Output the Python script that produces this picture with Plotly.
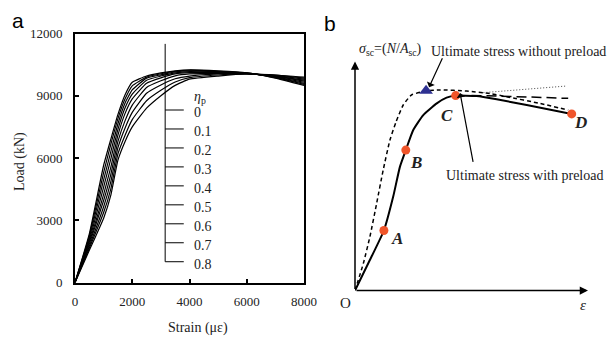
import plotly.graph_objects as go

W, H = 611, 338

# ---------------- Panel a data ----------------
strain = [0, 500, 1000, 1250, 1500, 1750, 2000, 2500, 3000, 3500, 4000, 5000, 6000, 7000, 8000]
eta_labels = ["0", "0.1", "0.2", "0.3", "0.4", "0.5", "0.6", "0.7", "0.8"]
load_eta_00 = [0, 2340, 5650, 6900, 8100, 9050, 9650, 9950, 10100, 10200, 10250, 10200, 10100, 9850, 9500]
load_eta_01 = [0, 2250, 5300, 6650, 7900, 8850, 9480, 9900, 10060, 10180, 10230, 10180, 10100, 9870, 9550]
load_eta_02 = [0, 2150, 4950, 6300, 7650, 8650, 9280, 9850, 10010, 10150, 10200, 10160, 10090, 9890, 9600]
load_eta_03 = [0, 2050, 4600, 5950, 7380, 8420, 9080, 9750, 9950, 10100, 10160, 10130, 10080, 9910, 9650]
load_eta_04 = [0, 1950, 4250, 5550, 7100, 8150, 8850, 9600, 9860, 10050, 10110, 10110, 10070, 9930, 9700]
load_eta_05 = [0, 1850, 3950, 5200, 6800, 7800, 8550, 9400, 9720, 9960, 10050, 10080, 10060, 9950, 9750]
load_eta_06 = [0, 1750, 3650, 4850, 6500, 7450, 8200, 9120, 9520, 9820, 9950, 10050, 10060, 9970, 9800]
load_eta_07 = [0, 1650, 3370, 4500, 6200, 7100, 7850, 8760, 9260, 9660, 9870, 10000, 10050, 9990, 9850]
load_eta_08 = [0, 1550, 3100, 4200, 5900, 6800, 7500, 8400, 9000, 9500, 9800, 9950, 10050, 10000, 9900]
loads = [load_eta_00, load_eta_01, load_eta_02, load_eta_03, load_eta_04,
         load_eta_05, load_eta_06, load_eta_07, load_eta_08]
x_ticks = [0, 2000, 4000, 6000, 8000]
x_tick_text = ["0", "2000", "4000", "6000", "8000"]
y_ticks = [0, 3000, 6000, 9000, 12000]
y_tick_text = ["0", "3000", "6000", "9000", "12000"]

# ---------------- Panel b data (normalised schematic) ----------------
solid_x = [0, 0.057, 0.124, 0.164, 0.193, 0.218, 0.250, 0.293, 0.351, 0.393, 0.432, 0.522, 0.608, 0.737, 0.930]
solid_y = [0, 0.119, 0.262, 0.410, 0.541, 0.613, 0.701, 0.766, 0.817, 0.842, 0.851, 0.849, 0.835, 0.810, 0.771]
nopre_x = [0, 0.036, 0.064, 0.093, 0.121, 0.150, 0.176, 0.207, 0.243, 0.305, 0.365, 0.479, 0.579, 0.651, 0.794, 0.915]
nopre_y = [0, 0.119, 0.235, 0.381, 0.526, 0.657, 0.736, 0.810, 0.854, 0.871, 0.876, 0.871, 0.860, 0.846, 0.817, 0.788]
longdash_x = [0.50, 0.60, 0.75, 0.915]
longdash_y = [0.852, 0.850, 0.845, 0.839]
dotted_x = [0.551, 0.70, 0.909]
dotted_y = [0.864, 0.876, 0.893]
pt_names = ["A", "B", "C", "D"]
pt_x = [0.124, 0.218, 0.432, 0.930]
pt_y = [0.262, 0.613, 0.851, 0.771]
tri_x = [0.305]
tri_y = [0.872]

SERIF = "Liberation Serif"
SANS = "Liberation Sans"

fig = go.Figure()

for ld in loads:
    fig.add_trace(go.Scatter(x=strain, y=ld, mode="lines", xaxis="x", yaxis="y",
                             line=dict(color="black", width=1.2, shape="spline", smoothing=0.4),
                             showlegend=False, hoverinfo="skip"))

fig.add_trace(go.Scatter(x=nopre_x, y=nopre_y, mode="lines", xaxis="x2", yaxis="y2",
                         line=dict(color="black", width=1.5, dash="4px,3px", shape="spline", smoothing=0.5),
                         showlegend=False))
fig.add_trace(go.Scatter(x=longdash_x, y=longdash_y, mode="lines", xaxis="x2", yaxis="y2",
                         line=dict(color="black", width=1.5, dash="10px,5px"), showlegend=False))
fig.add_trace(go.Scatter(x=dotted_x, y=dotted_y, mode="lines", xaxis="x2", yaxis="y2",
                         line=dict(color="#444444", width=1, dash="1px,2px"), showlegend=False))
fig.add_trace(go.Scatter(x=solid_x, y=solid_y, mode="lines", xaxis="x2", yaxis="y2",
                         line=dict(color="black", width=2, shape="spline", smoothing=0.5),
                         showlegend=False))
fig.add_trace(go.Scatter(x=pt_x, y=pt_y, mode="markers", xaxis="x2", yaxis="y2",
                         marker=dict(color="#F0552A", size=9, line=dict(width=0)),
                         showlegend=False, cliponaxis=False))
fig.add_trace(go.Scatter(x=tri_x, y=tri_y, mode="markers", xaxis="x2", yaxis="y2",
                         marker=dict(color="#2E3192", size=12, symbol="triangle-up"),
                         showlegend=False, cliponaxis=False))

def px(x):
    return x / W

def py(y):
    return 1 - y / H

ann = []
shapes = []

# Panel a legend (custom)
leg_x0 = 3150
leg_x1 = 3800
leg_lab_x = 4100
top_load = 11500
tick_loads = [8313 - i * 914 for i in range(len(eta_labels))]
shapes.append(dict(type="line", xref="x", yref="y", x0=leg_x0, x1=leg_x0, y0=top_load,
                   y1=tick_loads[-1], line=dict(color="black", width=1)))
for lab, tl in zip(eta_labels, tick_loads):
    shapes.append(dict(type="line", xref="x", yref="y", x0=leg_x0, x1=leg_x1, y0=tl, y1=tl,
                       line=dict(color="black", width=1)))
    ann.append(dict(x=leg_lab_x, y=tl - 120, xref="x", yref="y", text=lab, showarrow=False,
                    xanchor="left", yanchor="middle", font=dict(family=SERIF, size=14, color="#222")))
ann.append(dict(x=leg_lab_x, y=8900, xref="x", yref="y", text="<i>η</i><sub>p</sub>",
                showarrow=False, xanchor="left", yanchor="middle",
                font=dict(family=SERIF, size=14, color="#222")))

C = dict(xanchor="center", yanchor="middle")
L = dict(xanchor="left", yanchor="middle")

# Panel a axis titles and label
ann.append(dict(x=px(20), y=py(162), xref="paper", yref="paper", text="Load (kN)", textangle=-90,
                showarrow=False, font=dict(family=SERIF, size=14, color="#222"), **C))
ann.append(dict(x=px(198), y=py(328), xref="paper", yref="paper", text="Strain (με)",
                showarrow=False, font=dict(family=SERIF, size=14, color="#222"), **C))
ann.append(dict(x=px(18), y=py(21), xref="paper", yref="paper", text="a",
                showarrow=False, font=dict(family=SANS, size=21, color="black"), **C))
ann.append(dict(x=px(330), y=py(23), xref="paper", yref="paper", text="b",
                showarrow=False, font=dict(family=SANS, size=21, color="black"), **C))

# Panel b axes arrows
ann.append(dict(x=1.0, y=0, ax=0, ay=0, xref="x2", yref="y2", axref="x2", ayref="y2", text="",
                showarrow=True, arrowhead=2, arrowsize=1.1, arrowwidth=1.5, arrowcolor="black"))
ann.append(dict(x=0, y=1.0, ax=0, ay=0, xref="x2", yref="y2", axref="x2", ayref="y2", text="",
                showarrow=True, arrowhead=2, arrowsize=1.1, arrowwidth=1.5, arrowcolor="black"))

# Panel b point labels
lab_off = {"A": (0.056, -0.035), "B": (0.044, -0.052), "C": (-0.037, -0.085), "D": (0.036, -0.036)}
for n, x, y in zip(pt_names, pt_x, pt_y):
    dx, dy = lab_off[n]
    ann.append(dict(x=x + dx, y=y + dy, xref="x2", yref="y2", text="<b><i>%s</i></b>" % n,
                    showarrow=False, font=dict(family=SERIF, size=17, color="#222"), **C))

ann.append(dict(x=px(345), y=py(303), xref="paper", yref="paper", text="O",
                showarrow=False, font=dict(family=SERIF, size=15, color="#222"), **C))
ann.append(dict(x=px(583), y=py(305), xref="paper", yref="paper", text="<i>ε</i>",
                showarrow=False, font=dict(family=SERIF, size=15, color="#222"), **C))
ann.append(dict(x=px(357), y=py(50), xref="paper", yref="paper",
                text="<i>σ</i><sub>sc</sub>=(<i>N</i>/<i>A</i><sub>sc</sub>)",
                showarrow=False, font=dict(family=SERIF, size=14, color="#222"), **L))
ann.append(dict(x=px(429), y=py(51), xref="paper", yref="paper",
                text="Ultimate stress without preload",
                showarrow=False, font=dict(family=SERIF, size=14, color="#222"), **L))
ann.append(dict(x=px(444), y=py(175), xref="paper", yref="paper",
                text="Ultimate stress with preload",
                showarrow=False, font=dict(family=SERIF, size=14, color="#222"), **L))
# pointer arrows
ann.append(dict(x=0.318, y=0.888, ax=0.378, ay=1.021, xref="x2", yref="y2", axref="x2", ayref="y2",
                text="", showarrow=True, arrowhead=1, arrowsize=1.2, arrowwidth=1.2, arrowcolor="black"))
ann.append(dict(x=0.451, y=0.862, ax=0.508, ay=0.555, xref="x2", yref="y2", axref="x2", ayref="y2",
                text="", showarrow=True, arrowhead=1, arrowsize=1.2, arrowwidth=1.2, arrowcolor="black"))

axis_common = dict(showgrid=False, zeroline=False, showline=True, linecolor="black", linewidth=2,
                   mirror=True, ticks="inside", ticklen=4, tickwidth=1.5, tickcolor="black",
                   automargin=False, tickmode="array",
                   tickfont=dict(family=SERIF, size=13, color="#222"))

fig.update_layout(
    width=W, height=H, margin=dict(l=0, r=0, t=0, b=0),
    paper_bgcolor="white", plot_bgcolor="white",
    xaxis=dict(domain=[75 / W, 304 / W], range=[0, 8000], tickvals=x_ticks, ticktext=x_tick_text,
               anchor="y", ticklabelstandoff=6, **axis_common),
    yaxis=dict(domain=[(H - 282.5) / H, (H - 33.5) / H], range=[0, 12000], tickvals=y_ticks,
               ticktext=y_tick_text, anchor="x", ticklabelstandoff=8, **axis_common),
    xaxis2=dict(domain=[355 / W, 588 / W], range=[0, 1], anchor="y2", visible=False, automargin=False),
    yaxis2=dict(domain=[(H - 290.5) / H, (H - 61.5) / H], range=[0, 1], anchor="x2", visible=False,
                automargin=False),
    annotations=ann, shapes=shapes,
)

fig.write_html("out.html", config={"displayModeBar": False},
               post_script="document.body.style.margin='0px';document.body.style.overflow='hidden';")
